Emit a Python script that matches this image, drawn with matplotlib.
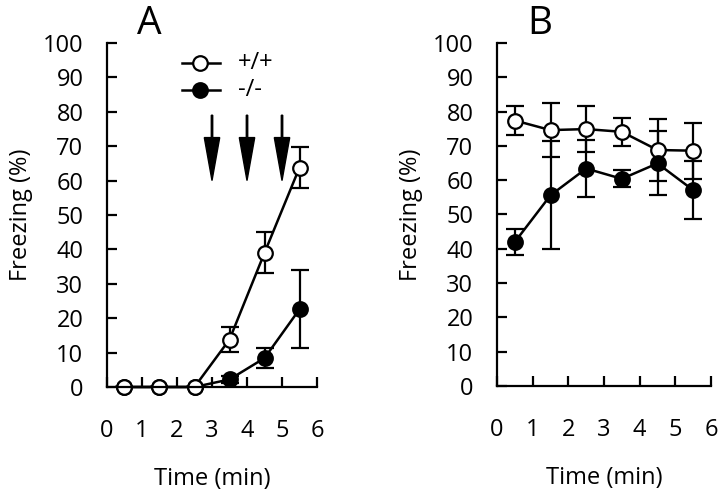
# Freezing vs time, two panels (A: acquisition, B: retention)
import numpy as np
import matplotlib
matplotlib.use("Agg")
import matplotlib.pyplot as plt

plt.rcParams['font.family'] = ['Open Sans', 'DejaVu Sans']

# Data
time = [0.5, 1.5, 2.5, 3.5, 4.5, 5.5]

# Panel A
wtA = [0, 0, 0, 13.8, 39, 63.8]
wtA_err = [0, 0, 0, 3.5, 6, 6]
koA = [0, 0, 0, 2.2, 8.4, 22.6]
koA_err = [0, 0, 0, 1, 3, 11.3]
shockTimes = [3, 4, 5]

# Panel B
wtB = [77.4, 74.6, 74.9, 74.1, 68.8, 68.6]
wtB_err = [4.2, 7.8, 6.8, 4.0, 9.0, 8.2]
koB = [42.0, 55.6, 63.4, 60.4, 64.9, 57.1]
koB_err = [3.8, 15.7, 8.2, 2.5, 9.3, 8.4]

xticks = [0, 1, 2, 3, 4, 5, 6]
yticks = [0, 10, 20, 30, 40, 50, 60, 70, 80, 90, 100]

fig = plt.figure(figsize=(7.2, 4.94), dpi=100)
axA = fig.add_axes([0.1486, 0.2166, 0.2917, 0.6964])
axB = fig.add_axes([0.6903, 0.2186, 0.2972, 0.6944])

lw = 1.8
ms = 10.5
cap = 6.2
fs = 17

def style_axis(ax, letter):
    ax.set_xlim(0, 6)
    ax.set_ylim(0, 100)
    ax.set_xticks(xticks)
    ax.set_yticks(yticks)
    for s in ['top', 'right']:
        ax.spines[s].set_visible(False)
    for s in ['left', 'bottom']:
        ax.spines[s].set_linewidth(1.6)
    ax.tick_params(axis='both', direction='in', length=7, width=1.6, labelsize=fs)
    ax.tick_params(axis='y', pad=17)
    ax.tick_params(axis='x', pad=23)
    ax.set_xlabel("Time (min)", fontsize=fs, labelpad=17)
    ax.set_ylabel("Freezing (%)", fontsize=fs, labelpad=7)
    ax.text(0.2, 1.055, letter, transform=ax.transAxes, fontsize=28,
            ha='center', va='center')
    ax.patch.set_visible(False)

def draw_series(ax, y, err, filled):
    face = 'black' if filled else 'white'
    parts = ax.errorbar(time, y, yerr=err, color='black', lw=lw, capsize=cap,
                        capthick=1.6, elinewidth=1.6, marker='o', markersize=ms,
                        markerfacecolor=face, markeredgecolor='black',
                        markeredgewidth=1.6)
    parts[0].set_clip_on(False)

# Panel A
draw_series(axA, koA, koA_err, True)
draw_series(axA, wtA, wtA_err, False)
for t in shockTimes:
    axA.arrow(t, 79, 0, -19, width=0.04, head_width=0.44, head_length=12.5,
              length_includes_head=True, color='black')
# legend
axA.plot([2.14, 3.23], [94.2, 94.2], color='black', lw=lw)
axA.plot([2.66], [94.2], marker='o', ms=ms, mfc='white', mec='black', mew=1.6)
axA.plot([2.14, 3.23], [86.3, 86.3], color='black', lw=lw)
axA.plot([2.66], [86.3], marker='o', ms=ms, mfc='black', mec='black', mew=1.6)
axA.text(3.74, 94.2, "+/+", fontsize=fs, va='center', ha='left')
axA.text(3.74, 86.3, "-/-", fontsize=fs, va='center', ha='left')
style_axis(axA, "A")

# Panel B
draw_series(axB, wtB, wtB_err, False)
draw_series(axB, koB, koB_err, True)
style_axis(axB, "B")

plt.savefig("out.png", dpi=100)
